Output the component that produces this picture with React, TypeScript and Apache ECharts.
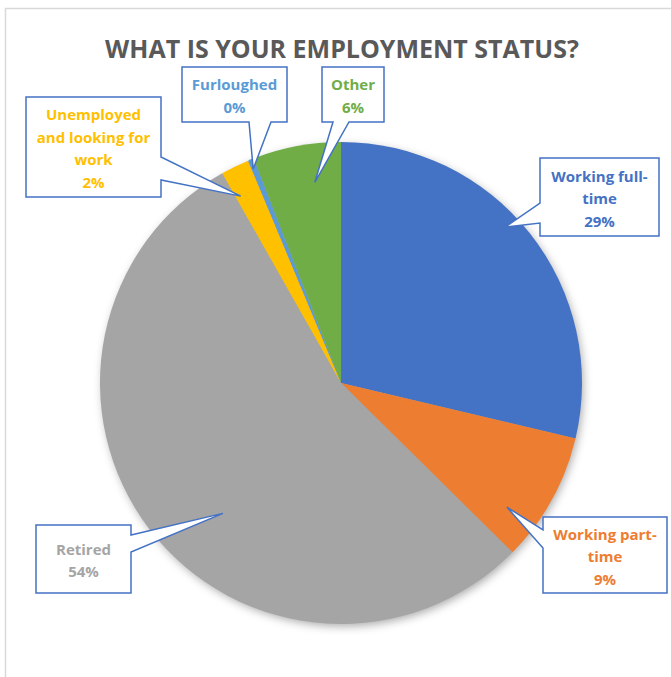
import React, { useEffect, useRef } from "react";
import * as echarts from "echarts";

const chartTitle = "WHAT IS YOUR EMPLOYMENT STATUS?";
const categories = [
  "Working full-time",
  "Working part-time",
  "Retired",
  "Unemployed and looking for work",
  "Furloughed",
  "Other",
];
const shares = [28.7, 8.7, 54.4, 1.9, 0.4, 5.9];
const colors = ["#4472C4", "#ED7D31", "#A5A5A5", "#FFC000", "#5B9BD5", "#70AD47"];
const labelLines = [
  ["Working full-", "time"],
  ["Working part-", "time"],
  ["Retired"],
  ["Unemployed", "and looking for", "work"],
  ["Furloughed"],
  ["Other"],
];

// callout layout (box, side where the pointer leaves, pointer base, anchor inside slice)
const callouts = [
  { box: { x: 540, y: 158, w: 119, h: 78 }, side: "left", base: [203, 223], t: 0.45, rf: 0.94 },
  { box: { x: 543, y: 517, w: 124, h: 76 }, side: "left", base: [530, 548], t: 0.75, rf: 0.86 },
  { box: { x: 36, y: 525, w: 95, h: 68 }, side: "right", base: [535, 552], t: 0.447, rf: 0.73 },
  { box: { x: 26, y: 97, w: 135, h: 100 }, side: "right", base: [157, 180], t: 0.19, rf: 0.88 },
  { box: { x: 182, y: 67, w: 105, h: 55 }, side: "bottom", base: [249, 271], t: 0.26, rf: 0.96 },
  { box: { x: 322, y: 67, w: 62, h: 55 }, side: "bottom", base: [333, 349], t: 0.65, rf: 0.84 },
];

const CX = 341;
const CY = 383;
const R = 241;
const FONT = "'Open Sans', 'Noto Sans', sans-serif";

function calloutPoints(b: any, side: string, base: number[], apex: number[]) {
  const x0 = b.x, y0 = b.y, x1 = b.x + b.w, y1 = b.y + b.h;
  const pts: number[][] = [[x0, y0]];
  if (side === "top") pts.push([base[0], y0], apex, [base[1], y0]);
  pts.push([x1, y0]);
  if (side === "right") pts.push([x1, base[0]], apex, [x1, base[1]]);
  pts.push([x1, y1]);
  if (side === "bottom") pts.push([base[1], y1], apex, [base[0], y1]);
  pts.push([x0, y1]);
  if (side === "left") pts.push([x0, base[1]], apex, [x0, base[0]]);
  return pts;
}

export default function App() {
  const ref = useRef<HTMLDivElement>(null);

  useEffect(() => {
    if (!ref.current) return;
    const chart = echarts.init(ref.current, undefined, { renderer: "svg" });
    const total = shares.reduce((a, b) => a + b, 0);

    const graphics: any[] = [
      {
        type: "rect",
        shape: { x: 5.5, y: 8.5, width: 720, height: 720 },
        style: { fill: "none", stroke: "#D9D9D9", lineWidth: 1.5 },
        z: 0,
      },
      {
        type: "circle",
        shape: { cx: CX, cy: CY, r: R - 1 },
        style: {
          fill: "#A5A5A5",
          shadowBlur: 10,
          shadowColor: "rgba(0,0,0,0.35)",
          shadowOffsetX: 2,
          shadowOffsetY: 3,
        },
        z: 0,
      },
      {
        type: "text",
        x: 342,
        y: 47.5,
        style: {
          text: chartTitle,
          font: `bold 25px ${FONT}`,
          fill: "#595959",
          align: "center",
          verticalAlign: "middle",
        },
        z: 100,
      },
    ];

    let cum = 0;
    shares.forEach((v, i) => {
      const startDeg = (cum / total) * 360;
      const span = (v / total) * 360;
      cum += v;
      const c = callouts[i];
      const th = ((startDeg + c.t * span) * Math.PI) / 180;
      const apex = [CX + R * c.rf * Math.sin(th), CY - R * c.rf * Math.cos(th)];
      const pct = Math.round((v / total) * 100) + "%";
      graphics.push({
        type: "polygon",
        shape: { points: calloutPoints(c.box, c.side, c.base, apex) },
        style: { fill: "#ffffff", stroke: "#4472C4", lineWidth: 1.5, lineJoin: "miter" },
        z: 100,
      });
      graphics.push({
        type: "text",
        x: c.box.x + c.box.w / 2,
        y: c.box.y + c.box.h / 2 + 1,
        style: {
          text: [...labelLines[i], pct].join("\n"),
          font: `bold 15px ${FONT}`,
          lineHeight: 22.5,
          fill: colors[i],
          align: "center",
          verticalAlign: "middle",
        },
        z: 101,
      });
    });

    chart.setOption({
      animation: false,
      backgroundColor: "#ffffff",
      color: colors,
      series: [
        {
          type: "pie",
          center: [CX, CY],
          radius: R,
          startAngle: 90,
          clockwise: true,
          silent: true,
          label: { show: false },
          labelLine: { show: false },
          itemStyle: { borderWidth: 0 },
          data: categories.map((name, i) => ({ name, value: shares[i] })),
        },
      ],
      graphic: graphics,
    });

    return () => chart.dispose();
  }, []);

  return (
    <div
      ref={ref}
      style={{ position: "fixed", left: 0, top: 0, width: 671, height: 677 }}
    />
  );
}
